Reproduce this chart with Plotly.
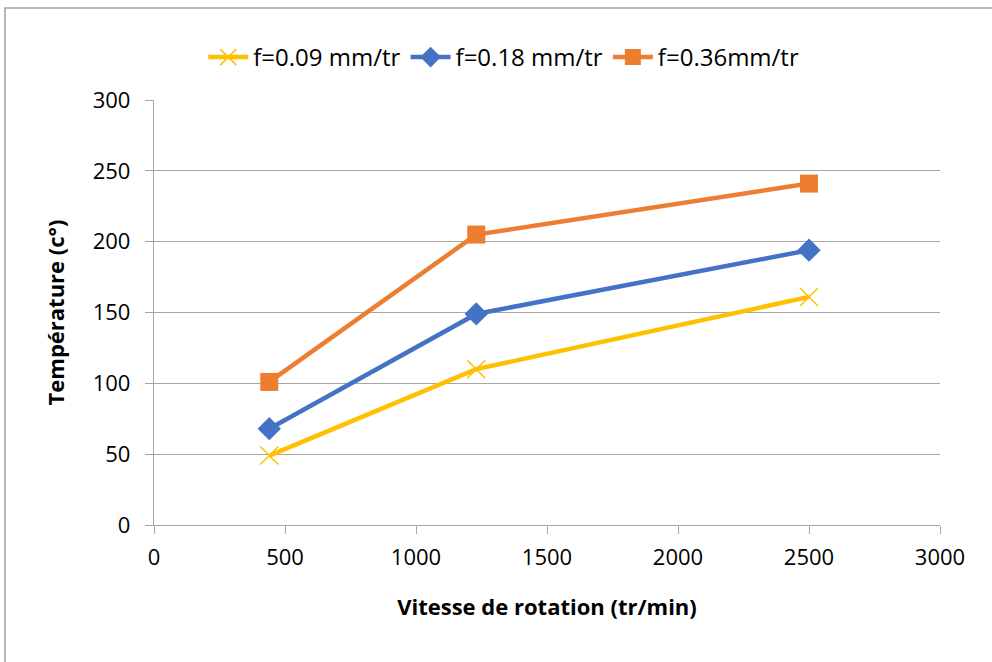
import plotly.graph_objects as go

vitesse = [440, 1230, 2500]
f009 = [49, 110, 161]
f018 = [68, 149, 194]
f036 = [101, 205, 241]
labels = ["f=0.09 mm/tr", "f=0.18 mm/tr", "f=0.36mm/tr"]

FONT = "'Open Sans', sans-serif"
GRID = "#A6A6A6"

fig = go.Figure()
fig.add_trace(go.Scatter(x=vitesse, y=f009, name=labels[0], mode="lines+markers",
                         line=dict(color="#FFC000", width=4.5),
                         marker=dict(symbol="x-thin", size=18, color="#FFC000",
                                     line=dict(color="#FFC000", width=1.5))))
fig.add_trace(go.Scatter(x=vitesse, y=f018, name=labels[1], mode="lines+markers",
                         line=dict(color="#4472C4", width=4.5),
                         marker=dict(symbol="diamond", size=18, color="#4472C4")))
fig.add_trace(go.Scatter(x=vitesse, y=f036, name=labels[2], mode="lines+markers",
                         line=dict(color="#ED7D31", width=4.5),
                         marker=dict(symbol="square", size=18, color="#ED7D31")))

fig.update_layout(
    width=992, height=662,
    margin=dict(l=154, r=52, t=100, b=137),
    paper_bgcolor="white", plot_bgcolor="white",
    font=dict(family=FONT, color="black", size=22),
    showlegend=True,
    legend=dict(orientation="h", x=0.445, xanchor="center", y=1.1, yanchor="middle",
                font=dict(size=24, family=FONT), itemwidth=40,
                tracegroupgap=0, bgcolor="rgba(0,0,0,0)"),
    xaxis=dict(range=[0, 3000], dtick=500, showgrid=False, zeroline=False,
               showline=True, linecolor=GRID, linewidth=1.3,
               ticks="outside", ticklen=8, tickcolor=GRID,
               tickfont=dict(size=22), ticklabelstandoff=4,
               title=dict(text="<b>Vitesse de rotation (tr/min)</b>", font=dict(size=22), standoff=30)),
    yaxis=dict(range=[0, 300], dtick=50, showgrid=True, gridcolor=GRID, gridwidth=1.3,
               zeroline=False, showline=True, linecolor=GRID, linewidth=1.3,
               ticks="outside", ticklen=8, tickcolor=GRID,
               tickfont=dict(size=22), ticklabelstandoff=10,
               title=dict(text="<b>Température (c°)</b>", font=dict(size=22), standoff=22)),
    shapes=[dict(type="rect", xref="paper", yref="paper",
                 x0=(5 - 154) / 786, x1=1.3, y0=-0.5, y1=(525 - 8) / 425,
                 line=dict(color="#A0A0A0", width=1.5), fillcolor="rgba(0,0,0,0)", layer="below")],
)

fig.write_html("out.html")
